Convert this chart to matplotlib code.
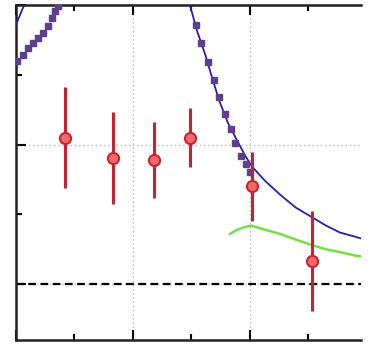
import numpy as np
import matplotlib.pyplot as plt
from matplotlib.ticker import MultipleLocator

# red data points with symmetric errors
pt_x = [0.42, 0.83, 1.18, 1.49, 2.02, 2.53]
pt_y = [1.05, 0.905, 0.89, 1.05, 0.70, 0.165]
pt_err = [0.36, 0.33, 0.275, 0.21, 0.25, 0.36]

# purple squares, left (rising) and right (falling) groups
sq_left_x = [0.01, 0.06, 0.10, 0.145, 0.19, 0.23, 0.275, 0.31, 0.335, 0.36]
sq_left_y = [1.60, 1.64, 1.69, 1.73, 1.76, 1.80, 1.85, 1.91, 1.96, 1.99]
sq_right_x = [1.54, 1.585, 1.64, 1.69, 1.735, 1.785, 1.835, 1.87, 1.92, 1.965, 2.0]
sq_right_y = [1.86, 1.73, 1.59, 1.46, 1.34, 1.22, 1.11, 1.01, 0.92, 0.86, 0.80]

# blue curves
blue_x = [1.49, 1.55, 1.62, 1.68, 1.74, 1.81, 1.89, 1.96, 2.02, 2.13, 2.26,
          2.39, 2.53, 2.65, 2.77, 2.90, 3.02]
blue_y = [1.99, 1.81, 1.64, 1.47, 1.31, 1.16, 1.03, 0.92, 0.84, 0.74, 0.64,
          0.55, 0.48, 0.42, 0.37, 0.34, 0.31]
blue_left_x = [-0.01, 0.07]
blue_left_y = [1.84, 2.0]

# green curve
green_x = [1.83, 1.88, 1.94, 2.01, 2.13, 2.26, 2.39, 2.53, 2.65, 2.77, 2.90, 3.02]
green_y = [0.36, 0.385, 0.405, 0.42, 0.39, 0.36, 0.32, 0.28, 0.25, 0.23, 0.205, 0.19]

fig = plt.figure(figsize=(3.69, 3.44), dpi=100)
ax = fig.add_axes([16 / 369, 4 / 344, 345 / 369, 335 / 344])

ax.grid(True, which='major', color='#bbbbbb', linestyle=(0, (1, 2)), linewidth=1.0)
ax.axhline(0, color='black', linestyle=(0, (3.5, 2)), linewidth=1.6, zorder=2)

ax.plot(blue_x, blue_y, color='#2a1fa8', linewidth=1.3, zorder=3)
ax.plot(blue_left_x, blue_left_y, color='#2a1fa8', linewidth=1.3, zorder=3)
ax.plot(green_x, green_y, color='#77dd44', linewidth=1.8, zorder=3)
ax.plot(sq_left_x, sq_left_y, 's', color='#5e3f8c', markersize=4, zorder=4)
ax.plot(sq_right_x, sq_right_y, 's', color='#5e3f8c', markersize=4, zorder=4)

ax.errorbar(pt_x, pt_y, yerr=pt_err, fmt='o', color='#cc2030', ecolor='#cc2030',
            elinewidth=2.2, markersize=8, markerfacecolor='#f06a6a',
            markeredgecolor='#cc2030', markeredgewidth=1.5, capsize=0, zorder=5)

ax.set_xlim(0, 2.95)
ax.set_ylim(-0.4, 2.0)
ax.xaxis.set_major_locator(MultipleLocator(1))
ax.xaxis.set_minor_locator(MultipleLocator(0.5))
ax.yaxis.set_major_locator(MultipleLocator(1))
ax.yaxis.set_minor_locator(MultipleLocator(0.5))
ax.tick_params(which='both', direction='in', top=True, right=False,
               labelbottom=False, labelleft=False, width=1.5, color='black')
ax.tick_params(which='major', length=7)
ax.tick_params(which='minor', length=4)
for s in ax.spines.values():
    s.set_linewidth(1.8)
    s.set_color('#222222')
ax.spines['right'].set_visible(False)

fig.savefig('out.png', dpi=100)
